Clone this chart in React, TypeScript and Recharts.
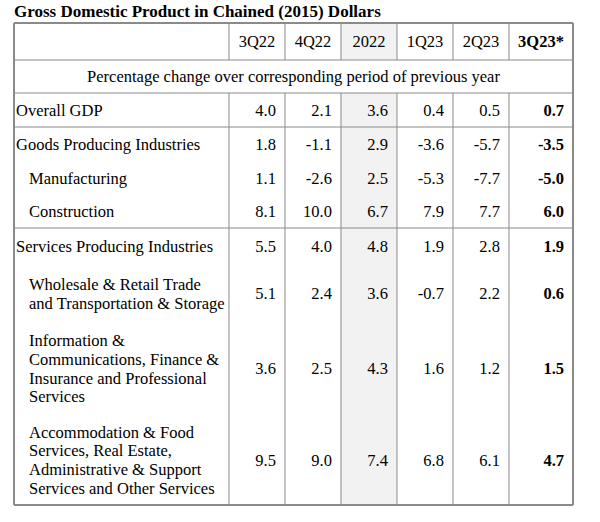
import React from 'react';
import { ComposedChart, XAxis, YAxis, Scatter, ReferenceLine, ReferenceArea, Customized } from 'recharts';

const title = 'Gross Domestic Product in Chained (2015) Dollars';
const subtitle = 'Percentage change over corresponding period of previous year';
const periods = ['3Q22', '4Q22', '2022', '1Q23', '2Q23', '3Q23*'];
const rowLabels: string[][] = [
  ['Overall GDP'],
  ['Goods Producing Industries'],
  ['Manufacturing'],
  ['Construction'],
  ['Services Producing Industries'],
  ['Wholesale & Retail Trade', 'and Transportation & Storage'],
  ['Information &', 'Communications, Finance &', 'Insurance and Professional', 'Services'],
  ['Accommodation & Food', 'Services, Real Estate,', 'Administrative & Support', 'Services and Other Services'],
];
const rowIndented = [false, false, true, true, false, true, true, true];
const v3Q22 = ['4.0', '1.8', '1.1', '8.1', '5.5', '5.1', '3.6', '9.5'];
const v4Q22 = ['2.1', '-1.1', '-2.6', '10.0', '4.0', '2.4', '2.5', '9.0'];
const v2022 = ['3.6', '2.9', '2.5', '6.7', '4.8', '3.6', '4.3', '7.4'];
const v1Q23 = ['0.4', '-3.6', '-5.3', '7.9', '1.9', '-0.7', '1.6', '6.8'];
const v2Q23 = ['0.5', '-5.7', '-7.7', '7.7', '2.8', '2.2', '1.2', '6.1'];
const v3Q23 = ['0.7', '-3.5', '-5.0', '6.0', '1.9', '0.6', '1.5', '4.7'];
const seriesValues = [v3Q22, v4Q22, v2022, v1Q23, v2Q23, v3Q23];

// layout (px / column units)
const W = 600;
const H = 522;
const FONT = '"Liberation Serif", "Times New Roman", Times, serif';
const FS = 16.5;
const LINE_H = 18.7;
const X_MIN = -3.839;
const X_MAX = 6.143;
const colBounds = [0, 1, 2, 3, 4, 5, X_MAX];
const headerH = 37;
const subH = 33;
const rowHeights = [34, 34, 34, 33, 37, 57, 93, 90];
const TABLE_H = headerH + subH + rowHeights.reduce((a, b) => a + b, 0);
const ruleAfterRows = [0, 3];
const GRID = '#8a8a8a';

const rowTops: number[] = [];
{
  let acc = headerH + subH;
  rowHeights.forEach((h) => {
    rowTops.push(acc);
    acc += h;
  });
}
const rowCenters = rowTops.map((t, i) => t + rowHeights[i] / 2);

const headerData = periods.map((p, i) => ({ x: (colBounds[i] + colBounds[i + 1]) / 2, y: headerH / 2, text: p, bold: i === 5 }));
const subData = [{ x: (X_MIN + X_MAX) / 2, y: headerH + subH / 2, text: subtitle }];
const labelData = rowLabels.map((lines, i) => ({ x: X_MIN, y: rowCenters[i], lines, indent: rowIndented[i] }));
const valueData = seriesValues.flatMap((vals, c) =>
  vals.map((v, r) => ({ x: colBounds[c + 1], y: rowCenters[r], text: v, bold: c === 5 }))
);

const CenterText = (props: any) => {
  const { cx, cy, payload } = props;
  return (
    <text x={cx} y={cy} dy="0.35em" textAnchor="middle" fontFamily={FONT} fontSize={FS} fontWeight={payload.bold ? 'bold' : 'normal'} fill="#000">
      {payload.text}
    </text>
  );
};

const ValueText = (props: any) => {
  const { cx, cy, payload } = props;
  return (
    <text x={cx - 9} y={cy} dy="0.35em" textAnchor="end" fontFamily={FONT} fontSize={FS} fontWeight={payload.bold ? 'bold' : 'normal'} fill="#000">
      {payload.text}
    </text>
  );
};

const LabelText = (props: any) => {
  const { cx, cy, payload } = props;
  const n = payload.lines.length;
  const x = cx + (payload.indent ? 15 : 2);
  return (
    <text x={x} y={cy} textAnchor="start" fontFamily={FONT} fontSize={FS} fill="#000">
      {payload.lines.map((l: string, i: number) => (
        <tspan key={i} x={x} y={cy + (i - (n - 1) / 2) * LINE_H} dy="0.35em">
          {l}
        </tspan>
      ))}
    </text>
  );
};

const Title = () => (
  <text x={14} y={17} fontFamily={FONT} fontSize={17} fontWeight="bold" fill="#000">
    {title}
  </text>
);

export default function App() {
  const bodyTop = headerH + subH;
  return (
    <div style={{ position: 'absolute', left: 0, top: 0, width: W, height: H, background: '#fff' }}>
      <ComposedChart width={W} height={H} margin={{ top: 23, right: W - 573, bottom: H - 23 - TABLE_H, left: 14 }}>
        <XAxis type="number" dataKey="x" domain={[X_MIN, X_MAX]} hide />
        <YAxis type="number" dataKey="y" domain={[0, TABLE_H]} reversed hide />
        <ReferenceArea x1={colBounds[2]} x2={colBounds[3]} y1={0} y2={headerH} fill="#f2f2f2" fillOpacity={1} stroke="none" ifOverflow="visible" />
        <ReferenceArea x1={colBounds[2]} x2={colBounds[3]} y1={bodyTop} y2={TABLE_H} fill="#f2f2f2" fillOpacity={1} stroke="none" ifOverflow="visible" />
        {colBounds.slice(0, 6).map((b, i) => (
          <ReferenceLine key={'vh' + i} segment={[{ x: b, y: 0 }, { x: b, y: headerH }]} stroke={GRID} strokeWidth={1} ifOverflow="visible" />
        ))}
        {colBounds.slice(0, 6).map((b, i) => (
          <ReferenceLine key={'vb' + i} segment={[{ x: b, y: bodyTop }, { x: b, y: TABLE_H }]} stroke={GRID} strokeWidth={1} ifOverflow="visible" />
        ))}
        <ReferenceLine y={headerH} stroke={GRID} strokeWidth={1} ifOverflow="visible" />
        <ReferenceLine y={bodyTop} stroke={GRID} strokeWidth={1} ifOverflow="visible" />
        {ruleAfterRows.map((r) => (
          <ReferenceLine key={'h' + r} y={rowTops[r] + rowHeights[r]} stroke={GRID} strokeWidth={1} ifOverflow="visible" />
        ))}
        <ReferenceLine y={0} stroke={GRID} strokeWidth={2} ifOverflow="visible" />
        <ReferenceLine y={TABLE_H} stroke={GRID} strokeWidth={2} ifOverflow="visible" />
        <ReferenceLine x={X_MIN} stroke={GRID} strokeWidth={2} ifOverflow="visible" />
        <ReferenceLine x={X_MAX} stroke={GRID} strokeWidth={2} ifOverflow="visible" />
        <Scatter data={headerData} shape={CenterText} isAnimationActive={false} />
        <Scatter data={subData} shape={CenterText} isAnimationActive={false} />
        <Scatter data={labelData} shape={LabelText} isAnimationActive={false} />
        <Scatter data={valueData} shape={ValueText} isAnimationActive={false} />
        <Customized component={Title} />
      </ComposedChart>
    </div>
  );
}
